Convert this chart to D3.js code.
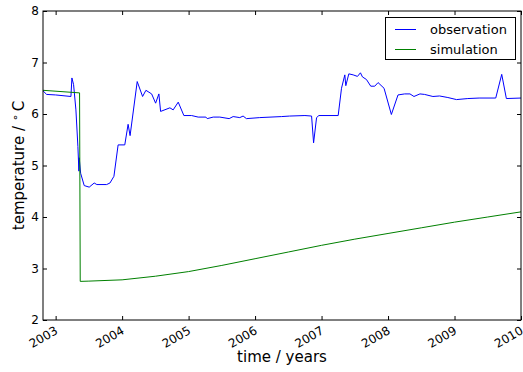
<!DOCTYPE html>
<html lang="en">
<head>
<meta charset="utf-8">
<title>temperature observation vs simulation</title>
<script src="https://d3js.org/d3.v7.min.js"></script>
<style>
  body { margin: 0; background: #fff; }
  svg text { font-family: "DejaVu Sans", sans-serif; fill: #000; }
</style>
</head>
<body>
<script>
// observation (decimal years / degC)
var obsTimes = [2002.81, 2002.865, 2003.0, 2003.23, 2003.245, 2003.27, 2003.305, 2003.335, 2003.35, 2003.355,
  2003.376, 2003.43, 2003.505, 2003.58, 2003.62, 2003.767, 2003.817, 2003.877, 2003.94, 2004.04,
  2004.09, 2004.12, 2004.227, 2004.308, 2004.358, 2004.444, 2004.504, 2004.553, 2004.579, 2004.719,
  2004.768, 2004.844, 2004.929, 2005.045, 2005.144, 2005.26, 2005.28, 2005.37, 2005.47, 2005.61,
  2005.67, 2005.77, 2005.82, 2005.87, 2006.07, 2006.40, 2006.52, 2006.75, 2006.85, 2006.88,
  2006.925, 2006.96, 2007.25, 2007.30, 2007.35, 2007.365, 2007.41, 2007.475, 2007.54, 2007.585,
  2007.615, 2007.675, 2007.74, 2007.80, 2007.85, 2007.94, 2008.05, 2008.15, 2008.25, 2008.33,
  2008.39, 2008.48, 2008.55, 2008.675, 2008.775, 2008.90, 2009.03, 2009.2, 2009.37, 2009.62,
  2009.71, 2009.78, 2010.0];
var obsValues = [6.45, 6.38, 6.37, 6.34, 6.70, 6.57, 6.08, 5.37, 4.89, 5.15,
  4.85, 4.61, 4.58, 4.66, 4.63, 4.63, 4.66, 4.79, 5.40, 5.40,
  5.80, 5.58, 6.63, 6.34, 6.46, 6.39, 6.21, 6.39, 6.05, 6.12,
  6.08, 6.23, 5.97, 5.97, 5.94, 5.94, 5.91, 5.94, 5.94, 5.91,
  5.95, 5.93, 5.96, 5.91, 5.93, 5.95, 5.96, 5.97, 5.96, 5.44,
  5.93, 5.97, 5.97, 6.50, 6.76, 6.55, 6.78, 6.76, 6.73, 6.80,
  6.72, 6.67, 6.54, 6.54, 6.61, 6.50, 5.99, 6.37, 6.39, 6.39,
  6.34, 6.39, 6.38, 6.34, 6.35, 6.32, 6.28, 6.30, 6.31, 6.31,
  6.77, 6.30, 6.31];

// simulation
var simTimes = [2002.81, 2003.36, 2003.37, 2003.5, 2004.0, 2004.5, 2005.0, 2005.5, 2006.0, 2006.5,
  2007.0, 2007.5, 2008.0, 2008.5, 2009.0, 2009.5, 2010.0];
var simValues = [6.46, 6.41, 2.75, 2.755, 2.78, 2.85, 2.94, 3.06, 3.19, 3.32,
  3.45, 3.57, 3.68, 3.79, 3.90, 4.00, 4.10];

var xTicks = [2003, 2004, 2005, 2006, 2007, 2008, 2009, 2010];
var yTicks = [2, 3, 4, 5, 6, 7, 8];
var seriesNames = ["observation", "simulation"];
var seriesColors = ["#0000ff", "#008000"];

var width = 523, height = 372;
// plot box (don't call it "top", that's window.top)
var pLeft = 43, pRight = 521, pTop = 11, pBottom = 320;

var svg = d3.select("body").append("svg")
  .attr("width", width)
  .attr("height", height);

var x = d3.scaleLinear().domain([2002.81, 2010.0]).range([pLeft, pRight]);
var y = d3.scaleLinear().domain([2, 8]).range([pBottom, pTop]);

// clip the lines to the axes box
svg.append("clipPath").attr("id", "plotclip")
  .append("rect")
  .attr("x", pLeft).attr("y", pTop)
  .attr("width", pRight - pLeft).attr("height", pBottom - pTop);

var line = d3.line()
  .x(function(d) { return x(d[0]); })
  .y(function(d) { return y(d[1]); });

var obs = obsTimes.map(function(t, i) { return [t, obsValues[i]]; });
var sim = simTimes.map(function(t, i) { return [t, simValues[i]]; });

svg.append("path")
  .datum(obs)
  .attr("d", line)
  .attr("fill", "none")
  .attr("stroke", seriesColors[0])
  .attr("stroke-width", 1)
  .attr("clip-path", "url(#plotclip)");

svg.append("path")
  .datum(sim)
  .attr("d", line)
  .attr("fill", "none")
  .attr("stroke", seriesColors[1])
  .attr("stroke-width", 1)
  .attr("clip-path", "url(#plotclip)");

// axes, ticks inward on all sides
var tickLen = 4;
var fmt = d3.format("d");

var xBottom = svg.append("g").attr("transform", "translate(0," + pBottom + ")")
  .call(d3.axisBottom(x).tickValues(xTicks).tickSize(-tickLen).tickFormat(""));
var xTop = svg.append("g").attr("transform", "translate(0," + pTop + ")")
  .call(d3.axisTop(x).tickValues(xTicks).tickSize(-tickLen).tickFormat(""));
var yLeft = svg.append("g").attr("transform", "translate(" + pLeft + ",0)")
  .call(d3.axisLeft(y).tickValues(yTicks).tickSize(-tickLen).tickFormat(""));
var yRight = svg.append("g").attr("transform", "translate(" + pRight + ",0)")
  .call(d3.axisRight(y).tickValues(yTicks).tickSize(-tickLen).tickFormat(""));

[xBottom, xTop, yLeft, yRight].forEach(function(g) {
  g.select(".domain").remove();
  g.selectAll(".tick line").attr("stroke", "#000");
});

// frame
svg.append("rect")
  .attr("x", pLeft).attr("y", pTop)
  .attr("width", pRight - pLeft).attr("height", pBottom - pTop)
  .attr("fill", "none")
  .attr("stroke", "#000")
  .attr("stroke-width", 1);

// tick labels (dates rotated like autofmt_xdate)
svg.selectAll(".xlab")
  .data(xTicks)
  .enter().append("text")
  .attr("class", "xlab")
  .attr("font-size", 12)
  .attr("text-anchor", "end")
  .attr("transform", function(d) { return "translate(" + (x(d) + 3) + "," + (pBottom + 13) + ") rotate(-30)"; })
  .text(fmt);

svg.selectAll(".ylab")
  .data(yTicks)
  .enter().append("text")
  .attr("class", "ylab")
  .attr("font-size", 12)
  .attr("text-anchor", "end")
  .attr("x", pLeft - 4)
  .attr("y", function(d) { return y(d) + 4; })
  .text(fmt);

// axis titles
svg.append("text")
  .attr("font-size", 15)
  .attr("text-anchor", "middle")
  .attr("x", (pLeft + pRight) / 2)
  .attr("y", 362)
  .text("time / years");

var yt = svg.append("text")
  .attr("font-size", 15)
  .attr("text-anchor", "middle")
  .attr("transform", "translate(24," + ((pTop + pBottom) / 2) + ") rotate(-90)");
yt.append("tspan").text("temperature / ");
yt.append("tspan").attr("font-size", 11).attr("dy", -5).text("\u2218");
yt.append("tspan").attr("dy", 5).text("\u2009C");

// legend
var lg = svg.append("g");
lg.append("rect")
  .attr("x", 385.5).attr("y", 17.5)
  .attr("width", 130).attr("height", 42)
  .attr("fill", "#fff")
  .attr("stroke", "#000")
  .attr("stroke-width", 1);

seriesNames.forEach(function(name, i) {
  var ly = 29.5 + i * 20;
  lg.append("line")
    .attr("x1", 395).attr("x2", 416)
    .attr("y1", ly).attr("y2", ly)
    .attr("stroke", seriesColors[i])
    .attr("stroke-width", 1);
  lg.append("text")
    .attr("x", 430)
    .attr("y", ly + 4.5)
    .attr("font-size", 13)
    .text(name);
});
</script>
</body>
</html>
